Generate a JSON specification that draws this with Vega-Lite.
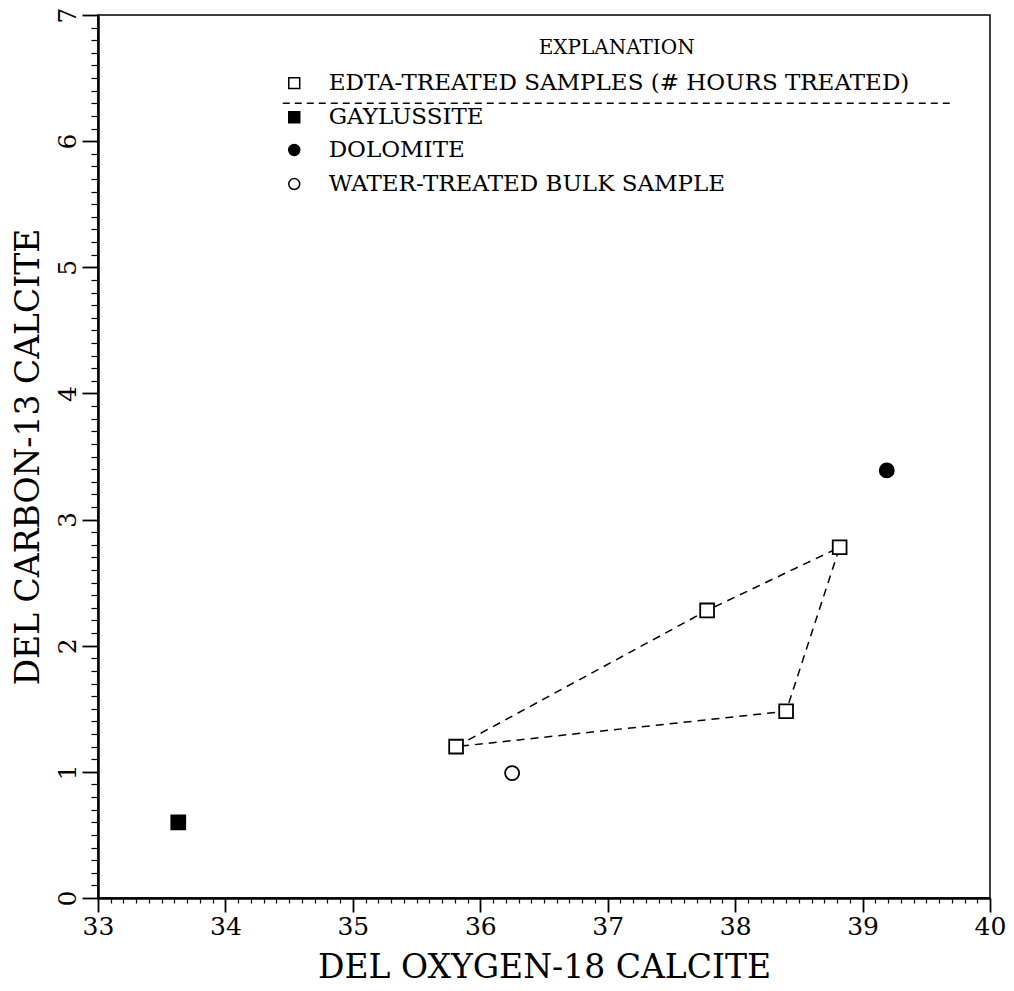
{
  "$schema": "https://vega.github.io/schema/vega-lite/v6.json",
  "width": 892,
  "height": 883,
  "autosize": {"type": "none"},
  "padding": {"left": 98, "top": 15, "right": 24, "bottom": 93},
  "background": "white",
  "config": {
    "view": {"stroke": "black", "strokeWidth": 1.5},
    "font": "DejaVu Serif",
    "axis": {"grid": false, "domainColor": "black", "tickColor": "black", "labelColor": "black", "titleColor": "black", "labelFont": "DejaVu Serif", "titleFont": "DejaVu Serif", "titleFontWeight": "normal", "labelFlush": false, "labelOverlap": false}
  },
  "datasets": {
    "samples": [
      {"group": "EDTA", "seq": 1, "o18": 35.81, "c13": 1.20},
      {"group": "EDTA", "seq": 2, "o18": 37.78, "c13": 2.28},
      {"group": "EDTA", "seq": 3, "o18": 38.82, "c13": 2.78},
      {"group": "EDTA", "seq": 4, "o18": 38.40, "c13": 1.48},
      {"group": "GAYLUSSITE", "seq": 1, "o18": 33.63, "c13": 0.60},
      {"group": "DOLOMITE", "seq": 1, "o18": 39.19, "c13": 3.39},
      {"group": "WATER", "seq": 1, "o18": 36.25, "c13": 0.99}
    ],
    "legend": [
      {"group": "EDTA", "label": "EDTA-TREATED SAMPLES (# HOURS TREATED)", "sx": 34.54, "tx": 34.81, "ly": 6.46},
      {"group": "GAYLUSSITE", "label": "GAYLUSSITE", "sx": 34.54, "tx": 34.81, "ly": 6.19},
      {"group": "DOLOMITE", "label": "DOLOMITE", "sx": 34.54, "tx": 34.81, "ly": 5.93},
      {"group": "WATER", "label": "WATER-TREATED BULK SAMPLE", "sx": 34.54, "tx": 34.81, "ly": 5.66}
    ],
    "heading": [{"label": "EXPLANATION", "hx": 37.07, "hy": 6.74}],
    "divider": [{"x1": 34.45, "x2": 39.69, "y": 6.30}]
  },
  "layer": [
    {
      "data": {"name": "samples"},
      "transform": [{"filter": "datum.group === 'EDTA'"}],
      "mark": {"type": "line", "color": "black", "strokeWidth": 1.5, "strokeDash": [8, 6], "interpolate": "linear-closed"},
      "encoding": {
        "x": {"field": "o18", "type": "quantitative", "scale": {"domain": [33, 40], "nice": false, "zero": false},
          "axis": {"orient": "bottom", "title": "DEL OXYGEN-18 CALCITE", "tickCount": 500,
            "values": [33,33.1,33.2,33.3,33.4,33.5,33.6,33.7,33.8,33.9,34,34.1,34.2,34.3,34.4,34.5,34.6,34.7,34.8,34.9,35,35.1,35.2,35.3,35.4,35.5,35.6,35.7,35.8,35.9,36,36.1,36.2,36.3,36.4,36.5,36.6,36.7,36.8,36.9,37,37.1,37.2,37.3,37.4,37.5,37.6,37.7,37.8,37.9,38,38.1,38.2,38.3,38.4,38.5,38.6,38.7,38.8,38.9,39,39.1,39.2,39.3,39.4,39.5,39.6,39.7,39.8,39.9,40],
            "labelExpr": "abs(datum.value - round(datum.value)) < 0.001 ? format(datum.value, 'd') : ''",
            "tickSize": {"condition": {"test": "abs(datum.value - round(datum.value)) < 0.001", "value": 14}, "value": 5},
            "tickWidth": {"condition": {"test": "abs(datum.value - round(datum.value)) < 0.001", "value": 1.8}, "value": 1.2},
            "domainWidth": 2.5, "labelFontSize": 25, "labelPadding": 2, "titleFontSize": 33, "titlePadding": 12}},
        "y": {"field": "c13", "type": "quantitative", "scale": {"domain": [0, 7], "nice": false, "zero": false},
          "axis": {"orient": "left", "title": "DEL CARBON-13 CALCITE", "tickCount": 500,
            "values": [0,0.1,0.2,0.3,0.4,0.5,0.6,0.7,0.8,0.9,1,1.1,1.2,1.3,1.4,1.5,1.6,1.7,1.8,1.9,2,2.1,2.2,2.3,2.4,2.5,2.6,2.7,2.8,2.9,3,3.1,3.2,3.3,3.4,3.5,3.6,3.7,3.8,3.9,4,4.1,4.2,4.3,4.4,4.5,4.6,4.7,4.8,4.9,5,5.1,5.2,5.3,5.4,5.5,5.6,5.7,5.8,5.9,6,6.1,6.2,6.3,6.4,6.5,6.6,6.7,6.8,6.9,7],
            "labelExpr": "abs(datum.value - round(datum.value)) < 0.001 ? format(datum.value, 'd') : ''",
            "tickSize": {"condition": {"test": "abs(datum.value - round(datum.value)) < 0.001", "value": 16}, "value": 7},
            "tickWidth": {"condition": {"test": "abs(datum.value - round(datum.value)) < 0.001", "value": 1.8}, "value": 1.2},
            "domainWidth": 2.5, "labelFontSize": 25, "labelAngle": 270, "labelAlign": "center", "labelBaseline": "bottom", "labelPadding": 2, "titleFontSize": 33, "titlePadding": 10}},
        "order": {"field": "seq", "type": "quantitative"}
      }
    },
    {
      "data": {"name": "samples"},
      "mark": {"type": "point", "filled": true, "stroke": "black", "strokeWidth": 1.8, "opacity": 1},
      "encoding": {
        "x": {"field": "o18", "type": "quantitative"},
        "y": {"field": "c13", "type": "quantitative"},
        "shape": {"field": "group", "type": "nominal", "scale": {"domain": ["EDTA", "GAYLUSSITE", "DOLOMITE", "WATER"], "range": ["square", "square", "circle", "circle"]}, "legend": null},
        "fill": {"field": "group", "type": "nominal", "scale": {"domain": ["EDTA", "GAYLUSSITE", "DOLOMITE", "WATER"], "range": ["white", "black", "black", "white"]}, "legend": null},
        "size": {"field": "group", "type": "nominal", "scale": {"domain": ["EDTA", "GAYLUSSITE", "DOLOMITE", "WATER"], "range": [190, 200, 150, 190]}, "legend": null}
      }
    },
    {
      "data": {"name": "legend"},
      "mark": {"type": "point", "filled": true, "stroke": "black", "strokeWidth": 1.5, "opacity": 1, "size": 120},
      "encoding": {
        "x": {"field": "sx", "type": "quantitative"},
        "y": {"field": "ly", "type": "quantitative"},
        "shape": {"field": "group", "type": "nominal", "legend": null},
        "fill": {"field": "group", "type": "nominal", "legend": null}
      }
    },
    {
      "data": {"name": "legend"},
      "mark": {"type": "text", "align": "left", "baseline": "middle", "font": "DejaVu Serif", "fontSize": 23, "color": "black"},
      "encoding": {
        "x": {"field": "tx", "type": "quantitative"},
        "y": {"field": "ly", "type": "quantitative"},
        "text": {"field": "label"}
      }
    },
    {
      "data": {"name": "heading"},
      "mark": {"type": "text", "align": "center", "baseline": "middle", "font": "DejaVu Serif", "fontSize": 20, "color": "black"},
      "encoding": {
        "x": {"field": "hx", "type": "quantitative"},
        "y": {"field": "hy", "type": "quantitative"},
        "text": {"field": "label"}
      }
    },
    {
      "data": {"name": "divider"},
      "mark": {"type": "rule", "color": "black", "strokeWidth": 1.5, "strokeDash": [7, 5]},
      "encoding": {
        "x": {"field": "x1", "type": "quantitative"},
        "x2": {"field": "x2"},
        "y": {"field": "y", "type": "quantitative"}
      }
    }
  ]
}
